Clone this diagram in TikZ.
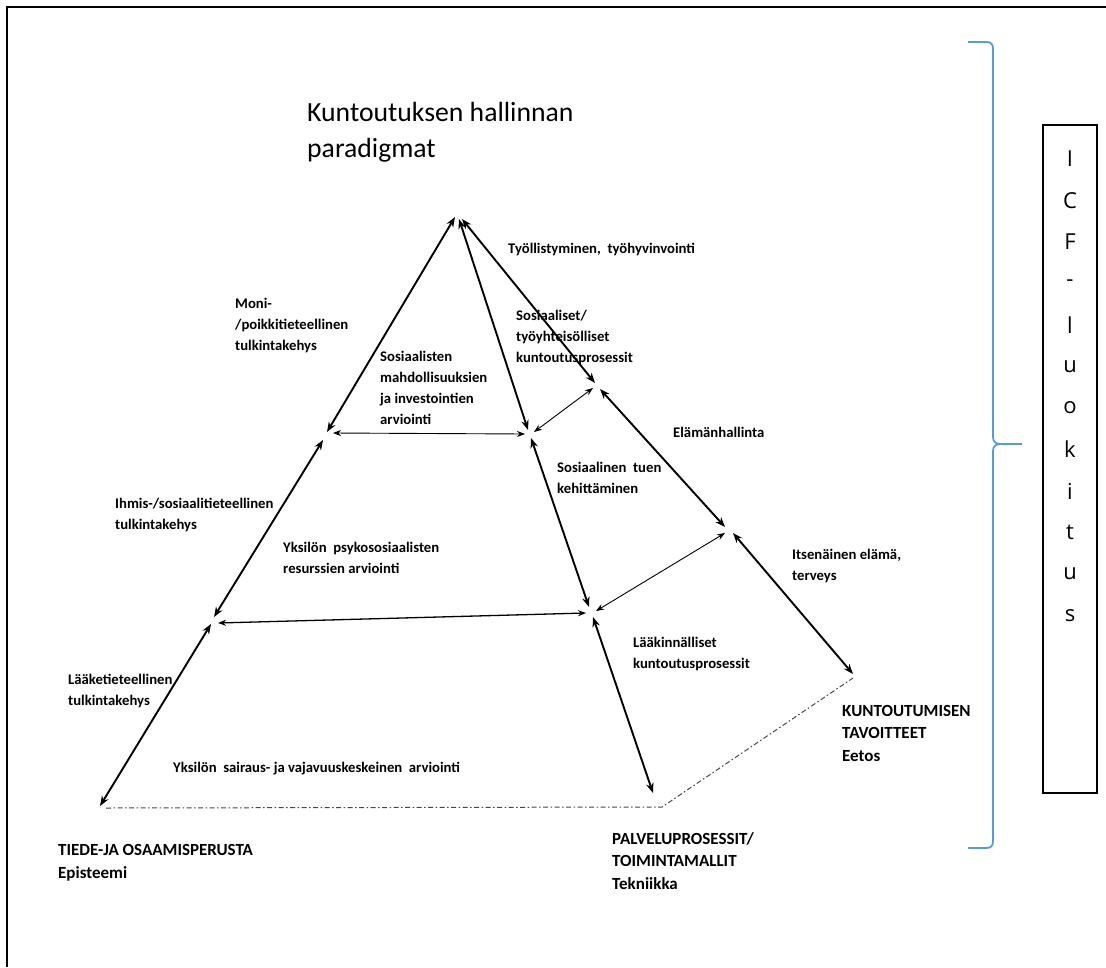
\documentclass[tikz,border=0pt]{standalone}
\usepackage{fontspec}
\setmainfont{Carlito}
\newfontfamily\icffont{Open Sans}
\usetikzlibrary{arrows.meta}
\definecolor{braceblue}{RGB}{91,155,213}
\definecolor{dashgray}{RGB}{70,70,70}
\begin{document}
\begin{tikzpicture}[x=1pt,y=-1pt,
  lbl/.style={anchor=base west, inner sep=0pt, align=left, font=\fontsize{14.7}{21}\selectfont\bfseries},
  caps/.style={anchor=base west, inner sep=0pt, align=left, font=\fontsize{17}{22.5}\selectfont\bfseries},
  ttl/.style={anchor=base west, inner sep=0pt, align=left, font=\fontsize{27.7}{36}\selectfont},
  edge/.style={line width=1.9pt, {Stealth[length=10pt,width=7.5pt]}-{Stealth[length=10pt,width=7.5pt]}},
  cross/.style={line width=0.9pt, {Stealth[length=8pt,width=6pt]}-{Stealth[length=8pt,width=6pt]}},
  basewire/.style={line width=1pt, dashgray, dash pattern=on 5pt off 2.5pt on 1.5pt off 2.5pt},
  icf/.style={inner sep=0pt, font=\icffont\fontsize{22}{22}\selectfont}
]
\useasboundingbox (0,0) rectangle (1106,967);
% frame (top and left visible)
\draw[line width=2pt] (7,967) -- (7,7) -- (1106,7);

% title (base anchor = baseline of last line)
\node[ttl] (title) at (307,157) {Kuntoutuksen hallinnan\\paradigmat};

% coordinates of the pyramid
\coordinate (aL) at (455,217);
\coordinate (aM) at (459,219);
\coordinate (aR) at (462,219);
\coordinate (l1a) at (327,432);
\coordinate (l1b) at (323,440);
\coordinate (l2a) at (214,617);
\coordinate (l2b) at (211,624);
\coordinate (l3) at (100,806);
\coordinate (m1a) at (528,430);
\coordinate (m1b) at (531,438);
\coordinate (m2a) at (589,607);
\coordinate (m2b) at (593,617);
\coordinate (m3) at (653,793);
\coordinate (r1a) at (595,383);
\coordinate (r1b) at (600,389);
\coordinate (r2a) at (725,527);
\coordinate (r2b) at (733,533);
\coordinate (r3) at (853,674);
\coordinate (h1l) at (333,433);
\coordinate (h1r) at (525,434);
\coordinate (h2l) at (218,623);
\coordinate (h2r) at (586,613);
\coordinate (c1a) at (534,432);
\coordinate (c1b) at (593,388);
\coordinate (c2a) at (596,611);
\coordinate (c2b) at (725,533);
\coordinate (bl) at (106,808);
\coordinate (bm) at (662,807);
\coordinate (br) at (853,678);

% edges
\draw[edge] (aL) -- (l1a);
\draw[edge] (l1b) -- (l2a);
\draw[edge] (l2b) -- (l3);
\draw[edge] (aM) -- (m1a);
\draw[edge] (m1b) -- (m2a);
\draw[edge] (m2b) -- (m3);
\draw[edge] (aR) -- (r1a);
\draw[edge] (r1b) -- (r2a);
\draw[edge] (r2b) -- (r3);
% cross connectors
\draw[cross] (h1l) -- (h1r);
\draw[cross, line width=1.3pt] (h2l) -- (h2r);
\draw[cross] (c1a) -- (c1b);
\draw[cross] (c2a) -- (c2b);
% base
\draw[basewire] (bl) -- (bm) -- (br);

% labels (base anchor = baseline of last line)
\node[lbl] (tyo) at (508,253) {Työllistyminen,\ \ työhyvinvointi};
\node[lbl] (moni) at (235,350) {Moni-\\/poikkitieteellinen\\tulkintakehys};
\node[lbl] (sosm) at (380,424) {Sosiaalisten\\mahdollisuuksien\\ja investointien\\arviointi};
\node[lbl] (sosp) at (516,362) {Sosiaaliset/\\työyhteisölliset\\kuntoutusprosessit};
\node[lbl] (elam) at (673,437) {Elämänhallinta};
\node[lbl] (tuen) at (557,493) {Sosiaalinen\ \ tuen\\kehittäminen};
\node[lbl] (ihmis) at (115,529) {Ihmis-/sosiaalitieteellinen\\tulkintakehys};
\node[lbl] (psyk) at (283,573) {Yksilön\ \ psykososiaalisten\\resurssien arviointi};
\node[lbl] (itse) at (792,580) {Itsenäinen elämä,\\terveys};
\node[lbl] (laak) at (633,668) {Lääkinnälliset\\kuntoutusprosessit};
\node[lbl] (laaket) at (68,705) {Lääketieteellinen\\tulkintakehys};
\node[lbl] (sair) at (173,772) {Yksilön\ \ sairaus- ja vajavuuskeskeinen\ \ arviointi};
\node[caps] (kunt) at (842,761) {KUNTOUTUMISEN\\TAVOITTEET\\Eetos};
\node[caps] (palv) at (612,889) {PALVELUPROSESSIT/\\TOIMINTAMALLIT\\Tekniikka};
\node[caps] (tiede) at (58,878) {TIEDE-JA OSAAMISPERUSTA\\Episteemi};

% brace
\draw[braceblue, line width=1.8pt, line join=round]
  (968,42) -- (986,42) .. controls (991,42) and (993,44) .. (993,49)
  -- (993,437) .. controls (993,442) and (996,444) .. (1001,444) -- (1022,444);
\draw[braceblue, line width=1.8pt, line join=round]
  (1001,444) .. controls (996,444) and (993,446) .. (993,451)
  -- (993,841) .. controls (993,846) and (991,848) .. (986,848) -- (968,848);

% ICF box
\draw[line width=1.3pt] (1043,125) rectangle (1097,793);
\foreach \ch [count=\i from 0] in {I,C,F,-,l,u,o,k,i,t,u,s}{
  \node[icf] (icf\i) at (1070,{159+\i*41.5}) {\ch};
}
\end{tikzpicture}
\end{document}
